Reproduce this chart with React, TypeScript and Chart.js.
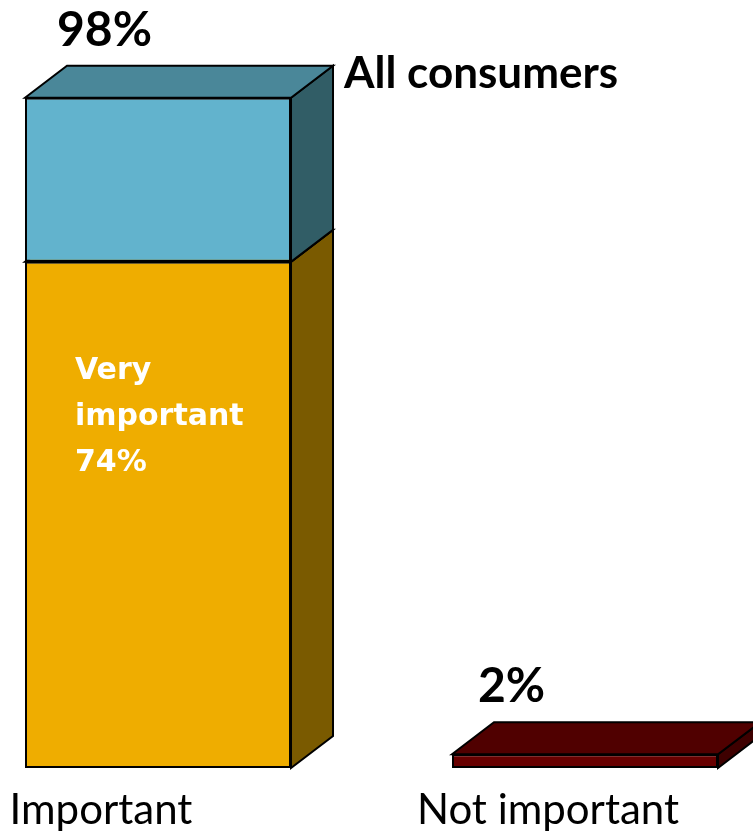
import React, { useEffect, useRef } from "react";
import { Chart, registerables } from "chart.js";

Chart.register(...registerables);

const categories = ["Important", "Not important"];
const veryImportant = [74, null];
const somewhatImportant = [24, null];
const notImportant = [null, 2];
const seriesName = "All consumers";

const FONT = "Lato, 'Open Sans', 'DejaVu Sans', sans-serif";
const INNER_FONT = "'DejaVu Sans', sans-serif";
const DX = 42;
const DY = 32;

type Face = { front: string; top: string; side: string };
const faces: Face[] = [
  { front: "#EFAD00", top: "#B88500", side: "#7A5A00" },
  { front: "#62B3CD", top: "#4A8799", side: "#315D66" },
  { front: "#680000", top: "#500000", side: "#3E0000" },
];

const threeD = {
  id: "threeD",
  beforeDatasetsDraw(chart: any) {
    const ctx = chart.ctx;
    ctx.save();
    ctx.lineWidth = 2;
    ctx.strokeStyle = "#000";
    ctx.lineJoin = "miter";
    chart.data.datasets.forEach((ds: any, i: number) => {
      const meta = chart.getDatasetMeta(i);
      meta.data.forEach((bar: any, j: number) => {
        if (ds.data[j] == null) return;
        const p = bar.getProps(["x", "y", "base", "width"], true);
        const l = p.x - p.width / 2;
        const r = p.x + p.width / 2;
        const t = Math.min(p.y, p.base);
        const b = Math.max(p.y, p.base);
        ctx.beginPath();
        ctx.moveTo(r, t);
        ctx.lineTo(r + DX, t - DY);
        ctx.lineTo(r + DX, b - DY);
        ctx.lineTo(r, b);
        ctx.closePath();
        ctx.fillStyle = faces[i].side;
        ctx.fill();
        ctx.stroke();
        ctx.beginPath();
        ctx.moveTo(l, t);
        ctx.lineTo(l + DX, t - DY);
        ctx.lineTo(r + DX, t - DY);
        ctx.lineTo(r, t);
        ctx.closePath();
        ctx.fillStyle = faces[i].top;
        ctx.fill();
        ctx.stroke();
      });
    });
    ctx.restore();
  },
  afterDatasetsDraw(chart: any) {
    const ctx = chart.ctx;
    ctx.save();
    const n = chart.data.labels.length;
    for (let j = 0; j < n; j++) {
      let total = 0;
      let topY = Infinity;
      let left = 0;
      let right = 0;
      let cx = 0;
      chart.data.datasets.forEach((ds: any, i: number) => {
        const v = ds.data[j];
        if (v == null) return;
        total += v;
        const p = chart.getDatasetMeta(i).data[j].getProps(["x", "y", "width"], true);
        topY = Math.min(topY, p.y);
        left = p.x - p.width / 2;
        right = p.x + p.width / 2;
        cx = p.x;
      });
      ctx.fillStyle = "#000";
      ctx.font = `bold 48px ${FONT}`;
      ctx.textAlign = "left";
      ctx.textBaseline = "alphabetic";
      ctx.fillText(`${total}%`, left + (j === 0 ? 32 : 26), topY - DY - 20);
      if (j === 0) {
        ctx.font = `bold 44px ${FONT}`;
        ctx.fillText(seriesName, right + DX + 11, topY - DY + 22);
      }
      ctx.font = `42px ${FONT}`;
      ctx.textAlign = "center";
      ctx.fillText(String(chart.data.labels[j]), cx - (j === 0 ? 57 : 37), 824);
    }
    const ds0 = chart.data.datasets[0];
    const b0 = chart.getDatasetMeta(0).data[0].getProps(["x", "width"], true);
    const words = String(ds0.label).split(" ");
    const lines = [...words, `${ds0.data[0]}%`];
    ctx.fillStyle = "#fff";
    ctx.font = `bold 30px ${INNER_FONT}`;
    ctx.textAlign = "left";
    lines.forEach((s, k) => {
      ctx.fillText(s, b0.x - b0.width / 2 + 50, 379 + k * 46);
    });
    ctx.restore();
  },
};

export default function App() {
  const ref = useRef<HTMLCanvasElement | null>(null);
  useEffect(() => {
    if (!ref.current) return;
    const chart = new Chart(ref.current, {
      type: "bar",
      data: {
        labels: categories,
        datasets: [
          { label: "Very important", data: veryImportant, backgroundColor: faces[0].front },
          { label: "Somewhat important", data: somewhatImportant, backgroundColor: faces[1].front },
          { label: "Not important", data: notImportant, backgroundColor: faces[2].front },
        ] as any,
      },
      options: {
        responsive: false,
        animation: false,
        devicePixelRatio: 1,
        layout: { padding: { left: 158, right: 168, top: 84, bottom: 67 } },
        datasets: {
          bar: {
            clip: false as any,
            borderColor: "#000",
            borderWidth: 2,
            borderSkipped: false,
            barPercentage: 0.623,
            categoryPercentage: 1,
          },
        },
        plugins: { legend: { display: false }, tooltip: { enabled: false } },
        scales: {
          x: { type: "category", stacked: true, offset: false, display: false },
          y: { stacked: true, min: 0, max: 100, display: false },
        },
      },
      plugins: [threeD],
    });
    return () => chart.destroy();
  }, []);
  return (
    <div style={{ position: "absolute", left: 0, top: 0, width: 753, height: 835, background: "#fff" }}>
      <canvas ref={ref} width={753} height={835} />
    </div>
  );
}
